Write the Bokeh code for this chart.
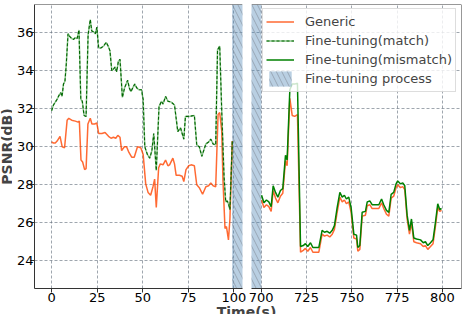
import math
from bokeh.plotting import figure
from bokeh.models import FixedTicker, Span, Legend, LegendItem, Label, Range1d
from bokeh.layouts import row, column
from bokeh.embed import file_html
from bokeh.resources import INLINE

FONT = "DejaVu Sans"

# ---------------- data ----------------
t_match = [0, 1, 2, 3, 4, 5, 5.7, 6.5, 7.3, 8, 9, 10, 11, 12, 13, 14, 15, 16, 16.8, 17.8, 18.9,
           20, 21.2, 22, 23, 24, 24.8, 25.8, 27, 28.5, 29.9, 31, 32, 33, 34, 34.8, 35.7, 36.6,
           37.5, 38.8, 40, 41.7, 42.6, 43.5, 44.5, 45.6, 46.7, 47.8, 49.3, 50.2, 51.1, 52.5,
           53.8, 55, 56, 57.4, 58.9, 60.2, 61.1, 62.5, 63.8, 65.6, 67.4, 68.3, 69.2, 70.7, 71.6,
           72.5, 73.4, 75.5, 78.3, 79.6, 81, 82.4, 84.6, 86.1, 87.3, 88.6, 90, 91, 92.2, 93.3,
           94.6, 95.5, 96.3, 97, 97.8, 99.1]
psnr_match = [31.9, 32.2, 32.35, 32.5, 32.7, 32.85, 32.65, 33.3, 33.45, 34.3, 35.95, 35.8, 35.7,
              35.65, 35.75, 35.7, 36.15, 32.5, 32.4, 31.65, 31.6, 35.9, 36.7, 36.1, 36.05, 35.95,
              36.3, 35.2, 35.2, 35.3, 35.5, 35.3, 35.05, 34.0, 34.1, 34.2, 33.95, 34.5, 34.6,
              32.6, 33.1, 33.5, 33.1, 32.9, 33.1, 33.3, 33.1, 33.0, 33.0, 32.5, 30.0, 29.6, 29.4,
              29.8, 30.7, 28.75, 32.1, 32.4, 32.25, 32.65, 32.4, 32.35, 32.2, 31.5, 30.8, 31.0,
              30.7, 30.4, 31.6, 31.6, 31.65, 30.1, 30.0, 29.5, 30.15, 30.25, 30.4, 30.15, 30.1,
              35.1, 35.3, 31.9, 28.4, 27.1, 27.15, 27.0, 26.7, 30.3]

t_generic_left = [0, 1, 2, 3, 4.6, 5.8, 7.1, 8.5, 9.4, 11, 13, 14.5, 15.2, 16.1, 17, 18.1, 18.9,
                  19.9, 21.2, 22.1, 23.6, 24.8, 25.8, 27.6, 29.3, 31.2, 32.6, 33.9, 35.2, 36.3,
                  37.5, 38.4, 39.9, 41.1, 42.4, 43.9, 45.3, 47.1, 48.9, 50.2, 51.6, 52.9, 54.3,
                  55.6, 56.5, 57.4, 58.7, 59.6, 61.1, 62.5, 63.8, 64.7, 66.5, 67.4, 68.3, 70.1,
                  71.6, 72.5, 73.7, 75.2, 76.5, 78.3, 79.6, 81, 82.8, 84.6, 86.1, 87.3, 88.6, 90,
                  91.3, 92.2, 93.3, 94, 95.1, 95.9, 97, 97.8, 99.1]
psnr_generic_left = [30.25, 30.2, 30.2, 30.3, 30.55, 30.0, 29.95, 31.4, 31.5, 31.4, 31.35, 31.3,
                     31.35, 29.3, 29.2, 28.8, 28.85, 31.2, 31.5, 31.2, 31.2, 31.25, 30.7, 30.7,
                     30.75, 30.55, 30.45, 30.5, 30.45, 30.6, 30.5, 29.8, 30.0, 30.0, 29.7, 29.45,
                     29.45, 30.0, 29.95, 29.6, 28.05, 27.6, 27.45, 27.9, 28.3, 26.8, 28.9, 29.1,
                     29.05, 29.3, 29.0, 29.05, 29.4, 29.1, 28.5, 28.5, 28.45, 28.17, 28.8, 29.0,
                     29.05, 29.0, 28.0, 27.85, 27.5, 27.9, 27.95, 28.1, 27.95, 27.9, 31.7, 31.8,
                     30.85, 28.2, 25.7, 25.8, 25.1, 26.2, 30.3]

t_right = [700.2, 701.5, 702.9, 704.2, 705.5, 706.6, 707.9, 709.2, 710.6, 711.9, 713.4, 714.3,
           715.8, 717.1, 718.5, 720, 721.7, 723.2, 724.4, 725.7, 727.2, 728.5, 730, 731.8, 733.6,
           734.9, 736.4, 737.8, 739.2, 740.4, 741.9, 743.4, 744.7, 745.9, 747, 748.3, 749.6,
           751.1, 752.6, 753.3, 754.4, 755.7, 757.5, 758.5, 759.9, 761.2, 763, 764.9, 766.4,
           767.6, 769.1, 770.4, 771.7, 773.1, 774.4, 775.3, 776.8, 778.1, 779.2, 780.5, 781.8,
           782.9, 784.2, 785.7, 787.9, 789.4, 790.6, 791.9, 793.4, 794.8, 796.1, 797.4, 798.5,
           799.5]
psnr_mismatch_right = [27.45, 27.05, 27.2, 27.1, 26.85, 27.95, 27.6, 27.35, 27.7, 27.8, 29.55,
                       29.3, 33.0, 33.3, 33.3, 33.35, 24.75, 24.8, 24.9, 24.75, 24.95, 24.7, 24.7,
                       24.7, 25.6, 25.5, 25.55, 25.45, 25.6, 25.85, 26.8, 27.6, 27.35, 27.45,
                       27.25, 27.35, 26.8, 25.4, 25.35, 24.7, 24.8, 26.55, 26.6, 27.1, 27.15,
                       26.95, 26.95, 26.95, 27.25, 26.95, 26.65, 26.55, 27.5, 27.6, 28.05, 28.2,
                       28.05, 28.1, 27.95, 26.4, 25.6, 26.2, 25.2, 25.15, 25.1, 24.95, 25.0, 24.8,
                       24.95, 25.1, 26.0, 27.0, 26.7, 26.75]
psnr_generic_right = [27.2, 26.8, 26.95, 26.85, 26.6, 27.7, 27.3, 27.05, 27.4, 27.55, 29.25,
                      29.0, 32.55, 31.65, 31.6, 31.7, 24.45, 24.55, 24.65, 24.5, 24.7, 24.45,
                      24.45, 24.45, 25.4, 25.3, 25.35, 25.25, 25.4, 25.65, 26.55, 27.35, 27.1,
                      27.2, 27.0, 27.1, 26.55, 25.2, 25.15, 24.5, 24.6, 26.35, 26.4, 26.9, 26.95,
                      26.75, 26.75, 26.75, 27.05, 26.75, 26.45, 26.35, 27.3, 27.4, 27.85, 28.0,
                      27.85, 27.9, 27.75, 26.2, 25.4, 26.0, 25.0, 24.95, 24.9, 24.75, 24.8, 24.6,
                      24.75, 24.9, 25.8, 26.8, 26.6, 26.65]

process_start = [99.0]
process_end = [700.0]

y_ticks = [24, 26, 28, 30, 32, 34, 36]
x_ticks_left = [0, 25, 50, 75, 100]
x_ticks_right = [700, 725, 750, 775, 800]
y_lim = (22.54, 37.49)
x_lim_left = (-9.4, 104.7)
x_lim_right = (694.65, 810.5)

ORANGE = "#ff4500"
GREEN = "#008000"
DARK_GREEN = "#006400"
AXIS_COL = "#333333"
H = 307


def make_fig(xlim, xticks, width, border_left, border_right):
    p = figure(width=width, height=H, x_range=Range1d(*xlim), y_range=Range1d(*y_lim),
               toolbar_location=None, output_backend="svg",
               min_border_left=border_left, min_border_right=border_right,
               min_border_top=4, min_border_bottom=19)
    p.outline_line_color = None
    p.background_fill_color = "white"
    p.border_fill_color = "white"
    p.xaxis.ticker = FixedTicker(ticks=xticks)
    p.yaxis.ticker = FixedTicker(ticks=y_ticks)
    p.axis.major_label_text_font = FONT
    p.axis.major_label_text_font_size = "13px"
    p.axis.major_label_text_color = "black"
    p.xaxis.major_label_standoff = 0
    p.yaxis.major_label_standoff = -3
    p.axis.major_tick_out = 4
    p.axis.major_tick_in = 0
    p.axis.minor_tick_out = 0
    p.axis.minor_tick_in = 0
    p.axis.axis_line_color = AXIS_COL
    p.axis.major_tick_line_color = AXIS_COL
    p.grid.grid_line_color = "#5f6b78"
    p.grid.grid_line_alpha = 0.6
    p.grid.grid_line_dash = "3 2"
    p.grid.grid_line_width = 1

    r = {}
    r["band"] = p.quad(left=process_start, right=process_end, bottom=[y_lim[0]], top=[y_lim[1]],
                       fill_color="#4682b4", fill_alpha=0.38, line_color=None,
                       hatch_pattern="\\", hatch_color="#8a96a3", hatch_alpha=0.7,
                       hatch_scale=11, hatch_weight=1)
    r["gen_l"] = p.line(t_generic_left, psnr_generic_left, line_color=ORANGE, line_alpha=0.8,
                        line_width=1.5)
    r["gen_r"] = p.line(t_right, psnr_generic_right, line_color=ORANGE, line_alpha=0.8,
                        line_width=1.5)
    r["match_bg"] = p.line(t_match, psnr_match, line_color=GREEN, line_alpha=0.45, line_width=1.5)
    r["match"] = p.line(t_match, psnr_match, line_color=DARK_GREEN, line_width=1.1,
                        line_dash="3 2")
    r["mis"] = p.line(t_right, psnr_mismatch_right, line_color=GREEN, line_width=1.5)
    p.add_layout(Span(location=y_lim[1], dimension="width", line_color=AXIS_COL, line_width=1))
    return p, r


# narrow strip holding the rotated y-axis title
P0_W = 12
p0 = figure(width=P0_W, height=H, x_range=Range1d(0, P0_W), y_range=Range1d(0, H),
            toolbar_location=None, output_backend="svg", min_border=0, title=None,
            x_axis_location=None, y_axis_location=None)
p0.frame_align = False
p0.outline_line_color = None
p0.grid.visible = False
p0.add_layout(Label(x=6.5, y=H - 146, text="PSNR(dB)",
                    angle=math.pi / 2, text_align="center", text_baseline="middle",
                    text_font=FONT, text_font_style="bold", text_font_size="14px"))

p1, r1 = make_fig(x_lim_left, x_ticks_left, 462 - P0_W - 216, 22, 4)

p2, r2 = make_fig(x_lim_right, x_ticks_right, 216, 5, 1)
p2.yaxis.visible = False
p2.add_layout(Span(location=x_lim_right[1], dimension="height", line_color=AXIS_COL, line_width=1))

legend = Legend(items=[
    LegendItem(label="Generic", renderers=[r2["gen_r"]]),
    LegendItem(label="Fine-tuning(match)", renderers=[r2["match_bg"], r2["match"]]),
    LegendItem(label="Fine-tuning(mismatch)", renderers=[r2["mis"]]),
    LegendItem(label="Fine-tuning process", renderers=[r2["band"]]),
], location=(11, 196))
legend.label_text_font = FONT
legend.label_text_font_size = "13px"
legend.label_height = 19
legend.glyph_height = 19
legend.glyph_width = 28
legend.label_standoff = 11
legend.padding = 3
legend.spacing = 0
legend.margin = 0
legend.border_line_color = "#bbbbbb"
legend.border_line_width = 1
legend.background_fill_alpha = 0.8
p2.add_layout(legend, "center")

p3 = figure(width=462, height=13, x_range=Range1d(0, 462), y_range=Range1d(0, 13),
            toolbar_location=None, output_backend="svg", min_border=0, title=None,
            x_axis_location=None, y_axis_location=None, margin=(-6, 0, 0, 0))
p3.frame_align = False
p3.outline_line_color = None
p3.grid.visible = False
p3.background_fill_alpha = 0
p3.border_fill_alpha = 0
p3.add_layout(Label(x=246, y=3, text="Time(s)",
                    text_align="center", text_baseline="alphabetic", text_font=FONT,
                    text_font_style="bold", text_font_size="14px"))

layout = column(row(p0, p1, p2), p3)

open("out.html", "w").write(file_html(layout, INLINE))
